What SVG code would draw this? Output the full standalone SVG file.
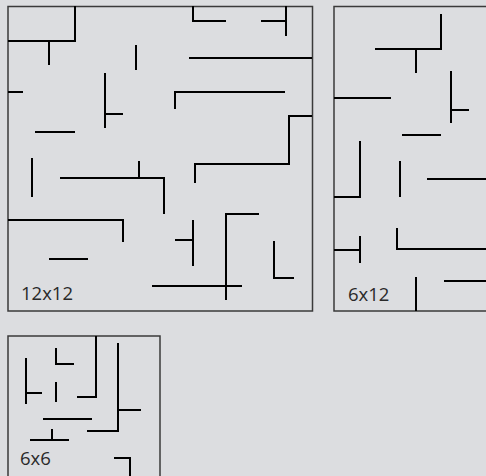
<svg xmlns="http://www.w3.org/2000/svg" width="486" height="476" viewBox="0 0 486 476">
<style>
.frame{fill:none;stroke:#3a3a3a;stroke-width:1.5}
.w{fill:none;stroke:#000;stroke-width:2;stroke-linecap:butt;stroke-linejoin:miter}
.lbl{font-family:"Open Sans","Noto Sans","Liberation Sans",sans-serif;font-size:18.5px;font-weight:400;fill:#2a2a2a}
</style>
<rect x="0" y="0" width="486" height="476" fill="#dcdde0"/>
<g id="maze12x12">
<rect class="frame" x="8" y="6.5" width="304.5" height="304.5"/>
<g class="w">
<polyline points="8,41 75,41 75,6"/>
<line x1="49" y1="41" x2="49" y2="65"/>
<line x1="136" y1="45" x2="136" y2="70"/>
<line x1="8" y1="92" x2="23" y2="92"/>
<line x1="105" y1="73" x2="105" y2="128"/>
<line x1="105" y1="114" x2="123" y2="114"/>
<line x1="35" y1="132" x2="75" y2="132"/>
<polyline points="193,6 193,21 226,21"/>
<line x1="261" y1="21" x2="286" y2="21"/>
<line x1="286" y1="6" x2="286" y2="36"/>
<line x1="189" y1="58" x2="312" y2="58"/>
<polyline points="175,109 175,92 285,92"/>
<polyline points="312,116 289,116 289,164 195,164 195,183"/>
<line x1="32" y1="158" x2="32" y2="197"/>
<polyline points="60,178 164,178 164,214"/>
<line x1="139" y1="161" x2="139" y2="178"/>
<polyline points="8,220 123,220 123,242"/>
<line x1="49" y1="259" x2="88" y2="259"/>
<polyline points="226,300 226,214 259,214"/>
<line x1="193" y1="220" x2="193" y2="266"/>
<line x1="175" y1="240" x2="193" y2="240"/>
<line x1="152" y1="286" x2="242" y2="286"/>
<polyline points="274,241 274,278 294,278"/>
</g>
<text class="lbl" x="21" y="300">12x12</text>
</g>
<g id="maze6x12">
<rect class="frame" x="334" y="6.5" width="153" height="304.5"/>
<g class="w">
<polyline points="441,14 441,49 375,49"/>
<line x1="416" y1="49" x2="416" y2="73"/>
<line x1="334" y1="98" x2="391" y2="98"/>
<line x1="451" y1="71" x2="451" y2="123"/>
<line x1="451" y1="110" x2="469" y2="110"/>
<line x1="402" y1="135" x2="441" y2="135"/>
<polyline points="360,141 360,197 334,197"/>
<line x1="400" y1="161" x2="400" y2="197"/>
<line x1="427" y1="179" x2="486" y2="179"/>
<polyline points="397,228 397,249 486,249"/>
<line x1="334" y1="250" x2="360" y2="250"/>
<line x1="360" y1="236" x2="360" y2="263"/>
<line x1="416" y1="277" x2="416" y2="311"/>
<line x1="444" y1="281" x2="486" y2="281"/>
</g>
<text class="lbl" x="348" y="301">6x12</text>
</g>
<g id="maze6x6">
<rect class="frame" x="8" y="336" width="152" height="152"/>
<g class="w">
<polyline points="96,336 96,397 77,397"/>
<polyline points="56,348 56,364 74,364"/>
<line x1="26" y1="358" x2="26" y2="404"/>
<line x1="26" y1="393" x2="42" y2="393"/>
<line x1="56" y1="382" x2="56" y2="402"/>
<polyline points="118,343 118,431 87,431"/>
<line x1="118" y1="410" x2="141" y2="410"/>
<line x1="43" y1="419" x2="92" y2="419"/>
<line x1="30" y1="440" x2="69" y2="440"/>
<line x1="52" y1="429" x2="52" y2="440"/>
<polyline points="114,458 130,458 130,480"/>
</g>
<text class="lbl" x="20" y="465">6x6</text>
</g>
</svg>
